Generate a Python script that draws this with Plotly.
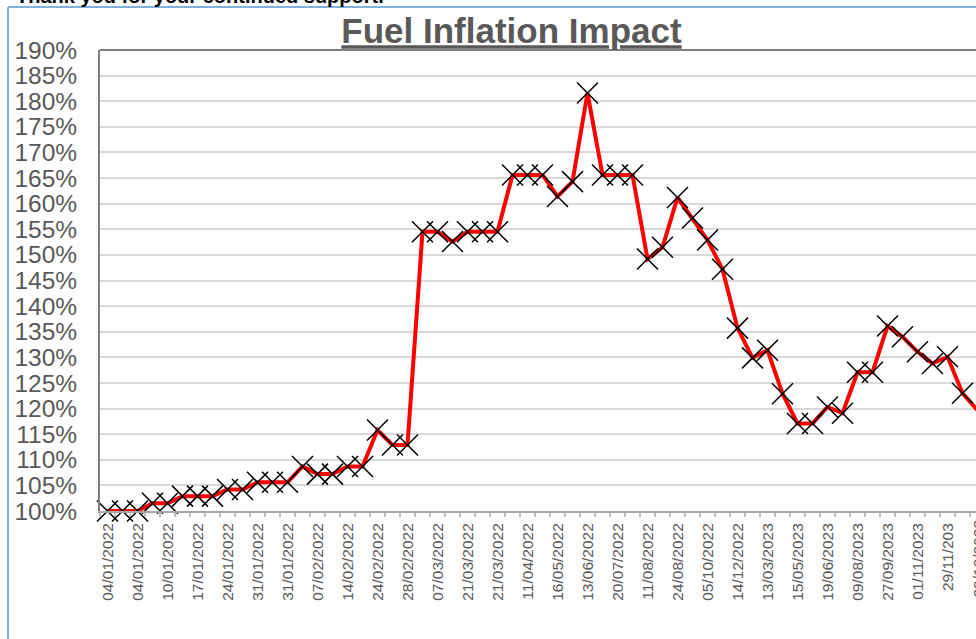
import plotly.graph_objects as go

# Fuel index (% of start), one value per weekly observation
values = [
    100.0, 100.0, 100.0, 101.5, 101.5, 102.9, 102.9, 102.9, 104.2, 104.2,
    105.6, 105.6, 105.6, 108.7, 107.2, 107.2, 108.7, 108.7, 115.8, 112.9,
    112.9, 154.5, 154.5, 152.6, 154.5, 154.5, 154.5, 165.6, 165.6, 165.6,
    161.4, 164.3, 181.6, 165.6, 165.6, 165.6, 149.2, 151.5, 161.2, 157.2,
    152.9, 147.2, 135.7, 129.9, 131.4, 122.9, 117.1, 117.1, 120.3, 119.1,
    127.1, 127.1, 136.1, 134.0, 131.1, 128.8, 130.1, 123.0, 119.7,
]

# Date labels shown on every second observation
date_labels = [
    "04/01/2022", "04/01/2022", "10/01/2022", "17/01/2022", "24/01/2022",
    "31/01/2022", "31/01/2022", "07/02/2022", "14/02/2022", "24/02/2022",
    "28/02/2022", "07/03/2022", "21/03/2022", "21/03/2022", "11/04/2022",
    "16/05/2022", "13/06/2022", "20/07/2022", "11/08/2022", "24/08/2022",
    "05/10/2022", "14/12/2022", "13/03/2023", "15/05/2023", "19/06/2023",
    "09/08/2023", "27/09/2023", "01/11/2023", "29/11/203", "20/12/2023",
]

y_ticks = list(range(100, 191, 5))

idx = list(range(len(values)))
label_pos = idx[::2]

W, H = 976, 639
L, T, B = 100, 50, 128
PW = W - L
PH = H - T - B


def px_x(p):
    return (p - L) / PW


def px_y(p):
    return (H - B - p) / PH


fig = go.Figure()
fig.add_trace(go.Scatter(
    x=idx, y=values, mode="lines+markers",
    line=dict(color="#ff0000", width=4),
    marker=dict(symbol="x-thin", size=21, color="black",
                line=dict(color="black", width=1.5)),
    cliponaxis=False, showlegend=False, hoverinfo="skip",
))

fig.update_layout(
    width=W, height=H,
    margin=dict(l=L, r=0, t=T, b=B, pad=0),
    paper_bgcolor="white", plot_bgcolor="white",
    title=dict(
        text="<b>Fuel Inflation Impact</b>",
        font=dict(family="Liberation Sans", size=35, color="#595959",
                  lineposition="under"),
        x=511.5 / W, xref="container", xanchor="center",
        y=1 - 31 / H, yref="container", yanchor="middle",
    ),
    xaxis=dict(
        range=[-0.5, -0.5 + PW / 15],
        tickmode="array", tickvals=label_pos, ticktext=date_labels,
        tickangle=-90, showgrid=False, zeroline=False,
        showline=True, linecolor="#a6a6a6", linewidth=2,
        ticks="", tickfont=dict(family="Liberation Sans", size=15.5, color="#595959"),
        minor=dict(ticks="outside", tickmode="linear", tick0=-0.5, dtick=1,
                   ticklen=4, tickwidth=1.5, tickcolor="#bfbfbf", showgrid=False),
        ticklabelstandoff=4,
    ),
    yaxis=dict(
        range=[100, 190], tickmode="array", tickvals=y_ticks,
        ticktext=[f"{v}%" for v in y_ticks],
        showgrid=True, gridcolor="#d9d9d9", gridwidth=2, zeroline=False,
        showline=True, linecolor="#7f7f7f", linewidth=2,
        ticks="", tickfont=dict(family="Liberation Sans", size=24.5, color="#595959"),
        ticklabelstandoff=16,
    ),
    shapes=[
        dict(type="line", xref="paper", yref="paper", x0=0, x1=1, y0=1, y1=1,
             line=dict(color="#7f7f7f", width=2), layer="above"),
        dict(type="line", xref="paper", yref="paper", x0=px_x(8), x1=px_x(8),
             y0=px_y(7), y1=px_y(H + 5), line=dict(color="#7fb0de", width=2)),
        dict(type="line", xref="paper", yref="paper", x0=px_x(8), x1=px_x(W + 5),
             y0=px_y(7), y1=px_y(7), line=dict(color="#7fb0de", width=2)),
    ],
    annotations=[
        dict(text="<b>Thank you for your continued support.</b>",
             xref="paper", yref="paper", x=px_x(14), y=px_y(9),
             xanchor="left", yanchor="bottom", showarrow=False,
             font=dict(family="Liberation Sans", size=20, color="black")),
        dict(text=date_labels[-1], xref="paper", yref="paper",
             x=px_x(107.5 + 15 * label_pos[-1]), y=px_y(H - B + 7),
             xanchor="center", yanchor="top", textangle=-90, showarrow=False,
             font=dict(family="Liberation Sans", size=15.5, color="#595959")),
    ],
)

fig.write_html(
    "out.html",
    config={"displayModeBar": False},
    post_script="document.body.style.margin='0';document.body.style.overflow='hidden';",
)
